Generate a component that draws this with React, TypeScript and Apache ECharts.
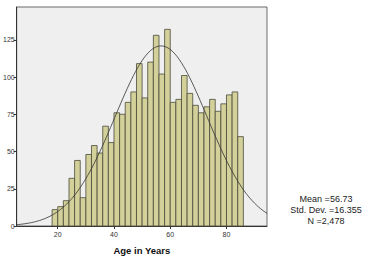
import React, { useEffect, useRef } from "react";
import * as echarts from "echarts";

// Age histogram: 2-year bins from 18 to 86
const binStarts = [
  18, 20, 22, 24, 26, 28, 30, 32, 34, 36, 38, 40, 42, 44, 46, 48, 50,
  52, 54, 56, 58, 60, 62, 64, 66, 68, 70, 72, 74, 76, 78, 80, 82, 84,
];
const counts = [
  11, 13, 17, 32, 44, 19, 48, 54, 49, 67, 56, 76, 75, 83, 90, 109, 86,
  110, 128, 102, 132, 83, 85, 101, 89, 81, 76, 80, 85, 77, 82, 88, 90, 60,
];
const binWidth = 2;

// Summary statistics shown beside the plot
const mean = 56.73;
const stdDev = 16.355;
const total = 2478;

const yTicks = [0, 25, 50, 75, 100, 125];
const xTicks = [20, 40, 60, 80];

const X_MIN = 5.4;
const X_MAX = 94.4;

const FONT = "Liberation Sans, Arial, sans-serif";

export default function App() {
  const ref = useRef<HTMLDivElement>(null);

  useEffect(() => {
    if (!ref.current) return;
    const chart = echarts.init(ref.current, null, { renderer: "svg" });

    // Normal curve scaled to counts per bin
    const curve: number[][] = [];
    const steps = 120;
    for (let i = 0; i <= steps; i++) {
      const x = X_MIN + ((X_MAX - X_MIN) * i) / steps;
      const z = (x - mean) / stdDev;
      const y =
        ((total * binWidth) / (stdDev * Math.sqrt(2 * Math.PI))) *
        Math.exp(-0.5 * z * z);
      curve.push([x, y]);
    }

    const histData = binStarts.map((s, i) => [s, counts[i]]);

    const statLines = [
      `Mean =${mean}`,
      `Std. Dev. =${stdDev}`,
      `N =${total.toLocaleString("en-US")}`,
    ];

    chart.setOption({
      animation: false,
      backgroundColor: "#ffffff",
      grid: {
        left: 16,
        top: 7,
        width: 251,
        height: 219,
        show: true,
        backgroundColor: "#efefef",
        borderColor: "#6a6a6a",
        borderWidth: 1,
      },
      xAxis: {
        type: "value",
        min: X_MIN,
        max: X_MAX,
        splitLine: { show: false },
        axisLine: { show: true, lineStyle: { color: "#333", width: 1 } },
        axisTick: {
          show: true,
          length: 3,
          lineStyle: { color: "#333" },
          customValues: xTicks,
        },
        axisLabel: {
          customValues: xTicks,
          fontSize: 7,
          color: "#333",
          margin: 5,
          fontFamily: FONT,
        },
        name: "Age in Years",
        nameLocation: "middle",
        nameGap: 19,
        nameTextStyle: {
          fontSize: 9.5,
          fontWeight: "bold",
          color: "#111",
          fontFamily: FONT,
        },
      },
      yAxis: {
        type: "value",
        min: 0,
        max: 147,
        splitLine: { show: false },
        axisLine: { show: true, lineStyle: { color: "#333", width: 1 } },
        axisTick: {
          show: true,
          length: 3,
          lineStyle: { color: "#333" },
          customValues: yTicks,
        },
        axisLabel: {
          customValues: yTicks,
          fontSize: 7,
          color: "#333",
          margin: 2,
          fontFamily: FONT,
        },
      },
      series: [
        {
          type: "custom",
          data: histData,
          renderItem: (params: any, api: any) => {
            const start = api.value(0);
            const val = api.value(1);
            const p0 = api.coord([start, val]);
            const p1 = api.coord([start + binWidth, 0]);
            return {
              type: "rect",
              shape: {
                x: p0[0],
                y: p0[1],
                width: p1[0] - p0[0],
                height: p1[1] - p0[1],
              },
              style: {
                fill: "#d3d09a",
                stroke: "#4a4a3a",
                lineWidth: 0.8,
              },
            };
          },
          z: 2,
        },
        {
          type: "line",
          data: curve,
          showSymbol: false,
          smooth: false,
          lineStyle: { color: "#333", width: 0.8 },
          z: 3,
        },
      ],
      graphic: statLines.map((t, i) => ({
        type: "text",
        x: 326,
        y: 199 + i * 11,
        style: {
          text: t,
          align: "center",
          verticalAlign: "middle",
          fontSize: 9,
          fill: "#222",
          fontFamily: FONT,
        },
      })),
    });

    return () => chart.dispose();
  }, []);

  return (
    <div
      ref={ref}
      style={{ position: "absolute", left: 0, top: 0, width: 374, height: 260 }}
    />
  );
}
